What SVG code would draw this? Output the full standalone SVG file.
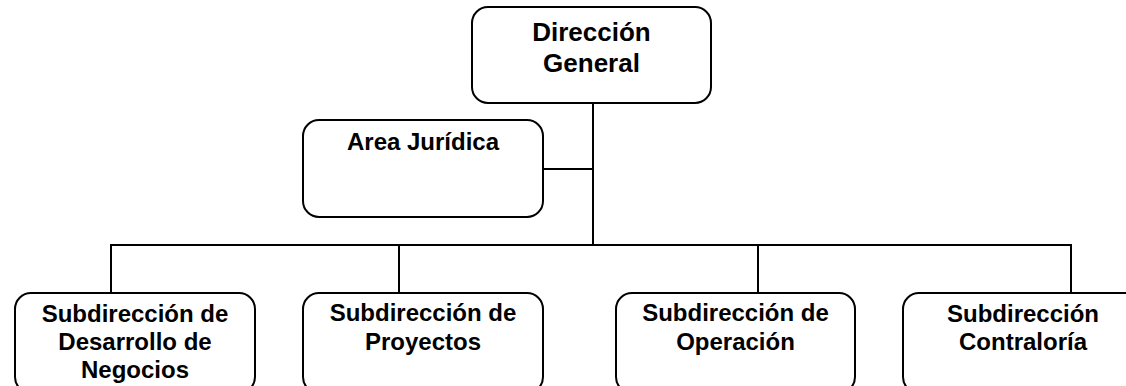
<svg xmlns="http://www.w3.org/2000/svg" width="1126" height="386" viewBox="0 0 1126 386">
<style>
.box{fill:#fff;stroke:#000;stroke-width:2}
.t{font-family:"Liberation Sans",Arial,sans-serif;font-weight:bold;font-size:24px;fill:#000;text-anchor:middle}
.big{font-size:26px}
.ln{stroke:#000;stroke-width:2;fill:none}
</style>
<rect width="1126" height="386" fill="#fff"/>
<g id="connectors">
<line class="ln" x1="593" y1="103" x2="593" y2="245"/>
<line class="ln" x1="543" y1="169" x2="593" y2="169"/>
<line class="ln" x1="110" y1="245" x2="1072" y2="245"/>
<line class="ln" x1="111" y1="245" x2="111" y2="293"/>
<line class="ln" x1="399" y1="245" x2="399" y2="293"/>
<line class="ln" x1="758" y1="245" x2="758" y2="293"/>
<line class="ln" x1="1071" y1="245" x2="1071" y2="293"/>
</g>
<g id="direccion-general">
<rect class="box" x="472" y="7" width="239" height="96" rx="16"/>
<text class="t big" x="591.5" y="41">Dirección</text>
<text class="t big" x="591.5" y="72">General</text>
</g>
<g id="area-juridica">
<rect class="box" x="303" y="120" width="240" height="97" rx="16"/>
<text class="t" x="423" y="150">Area Jurídica</text>
</g>
<g id="sub-desarrollo">
<rect class="box" x="15" y="293" width="240" height="100" rx="16"/>
<text class="t" x="135" y="322">Subdirección de</text>
<text class="t" x="135" y="350">Desarrollo de</text>
<text class="t" x="135" y="378">Negocios</text>
</g>
<g id="sub-proyectos">
<rect class="box" x="303" y="293" width="240" height="100" rx="16"/>
<text class="t" x="423" y="321">Subdirección de</text>
<text class="t" x="423" y="350">Proyectos</text>
</g>
<g id="sub-operacion">
<rect class="box" x="616" y="293" width="239" height="100" rx="16"/>
<text class="t" x="735.5" y="321">Subdirección de</text>
<text class="t" x="735.5" y="350">Operación</text>
</g>
<g id="sub-contraloria">
<rect class="box" x="903" y="293" width="240" height="100" rx="16"/>
<text class="t" x="1023" y="322">Subdirección</text>
<text class="t" x="1023" y="350">Contraloría</text>
</g>
</svg>
